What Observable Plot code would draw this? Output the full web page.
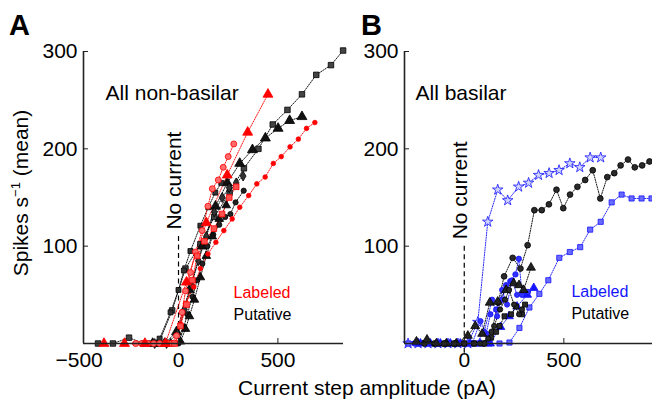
<!DOCTYPE html>
<html><head><meta charset="utf-8">
<script src="https://cdn.jsdelivr.net/npm/d3@7"></script>
<script src="https://cdn.jsdelivr.net/npm/@observablehq/plot@0.6"></script>
<style>
body{margin:0;background:#fff;}
#wrap{position:relative;width:652px;height:403px;font-family:"Liberation Sans",Arial,sans-serif;overflow:hidden;background:#fff}
#wrap svg{position:absolute;top:0;overflow:visible}
.lbl{position:absolute;white-space:nowrap;color:#000;line-height:1}
</style></head><body>
<div id="wrap"></div>
<script>
// ---------- Panel A: all non-basilar (current step pA, spikes/s) ----------
// labeled (red)
const aLabTri = [[-375,0],[-272,0],[-169,0],[-66,0],[40,63],[140,124],[245,173],[348,217],[450,256]];
const aLabDot = [[-220,0],[-180,0],[-140,0],[-100,0],[-58,0],[-15,0],[10,20],[35,41],[77,58],[110,77],[148,92],[188,104],[228,116],[270,128],[308,140],[353,152],[394,164],[436,171],[477,185],[517,192],[561,202],[603,210],[644,221],[686,227]];
const aLabCirc = [[-215,0],[-185,0],[-155,0],[-125,0],[-95,0],[-65,0],[-35,0],[-10,8],[18,32],[35,54],[60,73],[85,94],[119,116],[148,141],[170,159],[200,168],[225,181],[250,192],[278,205]];
const aLabSq = [[-60,0],[-20,0],[10,18],[40,40],[70,65],[94,90],[130,105],[178,118],[219,133],[255,150],[290,161]];
// putative (black)
const aPutSq = [[-405,0],[-330,0],[-249,6],[-175,0],[-100,0],[-32,34],[35,77],[110,102],[180,130],[257,155],[329,180],[402,200],[474,225],[548,240],[621,256],[693,276],[767,286],[828,301]];
const aPutTri = [[-130,0],[-70,0],[-10,12],[55,55],[120,100],[186,141],[245,165],[308,185],[372,199],[437,211],[501,221],[559,229],[621,233]];
const aPutCirc = [[-150,0],[-100,0],[-50,0],[0,0],[27,17],[44,30],[70,48],[94,65],[120,82],[145,100],[175,112],[205,122],[235,130],[261,133],[287,145],[328,157]];
const aPutDia = [[-120,0],[-60,0],[-5,10],[30,35],[65,60],[100,85],[140,110],[180,135],[220,150],[255,160],[290,165],[325,172]];
const aPutTri2 = [[-40,0],[10,2],[35,15],[55,28],[80,45],[110,68],[140,90],[170,110],[205,128],[240,142]];
const aPutSq2 = [[-150,0],[-95,5],[-40,32],[0,55],[27,75],[60,95],[110,121],[150,140],[185,155],[215,165]];

// ---------- Panel B: all basilar ----------
// labeled (blue)
const bLabStar = [[-282,0],[-232,0],[-182,0],[-132,0],[-82,0],[-32,0],[18,0],[68,22],[118,125],[168,158],[218,147],[273,161],[323,165],[373,173],[426,175],[476,178],[530,185],[580,181],[632,191],[685,191]];
const bLabSq = [[-280,0],[-230,0],[-180,0],[-130,0],[-80,0],[-30,0],[20,0],[77,0],[127,0],[177,0],[227,1],[277,16],[327,37],[377,51],[422,65],[477,88],[530,94],[582,99],[632,117],[685,125],[740,145],[790,153],[840,149],[890,149],[940,149]];
const bLabTri = [[-220,0],[-170,0],[-120,0],[-70,0],[-20,0],[30,0],[80,0],[130,0],[182,17],[225,28],[265,38],[316,50],[349,57]];
const bLabCirc = [[-250,0],[-190,0],[-130,0],[-70,0],[-10,0],[40,0],[81,23],[110,10],[131,30],[160,35],[190,45],[210,60],[231,64],[257,71],[274,87],[290,50],[320,53]];
const bLabCirc2 = [[60,0],[100,12],[140,45],[165,28],[190,55],[215,40],[240,65],[265,50]];
// putative (black)
const bPutCirc = [[-200,0],[-150,0],[-100,0],[-50,0],[0,0],[50,0],[100,0],[138,12],[170,42],[200,69],[243,88],[282,77],[318,101],[352,137],[389,137],[425,143],[463,158],[497,139],[531,153],[568,161],[607,168],[645,178],[683,149],[718,171],[753,175],[785,183],[822,189],[856,181],[893,183],[930,187]];
const bPutTri = [[-240,2],[-187,4],[-140,0],[-90,0],[-40,0],[18,8],[55,18],[90,10],[128,42],[168,43],[210,55],[248,62],[275,60],[298,55],[335,78]];
const bPutSq = [[-100,0],[-50,0],[0,0],[50,0],[100,0],[135,6],[160,12],[177,18],[202,28],[235,30],[260,38],[290,30],[305,40]];
const bPutCirc2 = [[80,0],[120,5],[150,18],[180,35],[205,45],[225,55],[250,40],[275,30],[290,35]];

// ---------- axes / annotations ----------
const aXTicks = [-500, 0, 500];
const bXTicks = [0, 500];
const yTicks = [100, 200, 300];
const aXDomain = [-478, 830];
const bXDomain = [-300, 945];
const yDomain = [0, 300];
const aTitle = "All non-basilar", bTitle = "All basilar";
const aTitlePos = [-367, 257], bTitlePos = [-245, 257];
const aNoCur = [0, 113], bNoCur = [-10, 103];   // dashed line extent (spikes/s)
const aLegendPos = [277, 51.5, 29], bLegendPos = [538, 52.6, 30.4];
const xLabel = "Current step amplitude (pA)";

const RED = "#ff0000", BLUE = "#1414ff", BLK = "#000000";
const FONT = "'Liberation Sans', Arial, Helvetica, sans-serif";

const aSeries = [
  {data: aPutSq,   c: BLK, symbol: "square",   r: 3.1, fill: "#444"},
  {data: aPutTri,  c: BLK, symbol: "triangle", r: 3.7, fill: "#111"},
  {data: aPutCirc, c: BLK, symbol: "circle",   r: 2.6, fill: "#222"},
  {data: aPutDia,  c: BLK, symbol: "diamond",  r: 3.0, fill: "#333"},
  {data: aPutTri2, c: BLK, symbol: "triangle", r: 3.2, fill: "#111"},
  {data: aPutSq2,  c: BLK, symbol: "square",   r: 2.8, fill: "#333"},
  {data: aLabDot,  c: RED, symbol: "circle",   r: 2.3, fill: RED},
  {data: aLabCirc, c: RED, symbol: "circle",   r: 3.0, fill: "#ff6a6a"},
  {data: aLabSq,   c: RED, symbol: "square",   r: 3.2, fill: "#ff5050"},
  {data: aLabTri,  c: RED, symbol: "triangle", r: 3.7, fill: RED}
];
const bSeries = [
  {data: bLabStar,  c: BLUE, symbol: "star",     r: 3.3, fill: "#d0d4ff"},
  {data: bLabSq,    c: BLUE, symbol: "square",   r: 2.9, fill: "#6a6aff"},
  {data: bLabTri,   c: BLUE, symbol: "triangle", r: 3.2, fill: BLUE},
  {data: bLabCirc,  c: BLUE, symbol: "circle",   r: 2.7, fill: "#3030ff"},
  {data: bLabCirc2, c: BLUE, symbol: "circle",   r: 2.6, fill: "#3030ff"},
  {data: bPutCirc,  c: BLK,  symbol: "circle",   r: 2.9, fill: "#2a2a2a"},
  {data: bPutTri,   c: BLK,  symbol: "triangle", r: 3.3, fill: "#222"},
  {data: bPutSq,    c: BLK,  symbol: "square",   r: 2.8, fill: "#2a2a2a"},
  {data: bPutCirc2, c: BLK,  symbol: "circle",   r: 2.6, fill: "#2a2a2a"}
];

function seriesMarks(list) {
  const m = [];
  for (const s of list) {
    m.push(Plot.line(s.data, {x: d => d[0], y: d => d[1], stroke: s.c, strokeWidth: 1, strokeDasharray: "1.2,1.3", strokeOpacity: 0.9}));
  }
  for (const s of list) {
    m.push(Plot.dot(s.data, {x: d => d[0], y: d => d[1], symbol: s.symbol, r: s.r, fill: s.fill, stroke: s.c, strokeWidth: 0.8}));
  }
  return m;
}

function panel({series, xDomain, xTicks, width, marginLeft, marginRight, title, titlePos, noCur, legendPos, legendColor}) {
  return Plot.plot({
    width, height: 403, marginLeft, marginRight, marginTop: 51, marginBottom: 403 - 51 - 292,
    style: {background: "none", fontFamily: FONT, fontSize: "21px", overflow: "visible"},
    x: {domain: xDomain}, y: {domain: yDomain},
    marks: [
      Plot.ruleX([0], {y1: noCur[0], y2: noCur[1], stroke: "#000", strokeWidth: 1.2, strokeDasharray: "5,3.5"}),
      Plot.text(["No current"], {x: 0, y: noCur[1] + 4, rotate: -90, textAnchor: "start", lineAnchor: "middle", dx: -4, fontSize: 21, fill: "#000"}),
      Plot.text([title], {x: titlePos[0], y: titlePos[1], textAnchor: "start", lineAnchor: "middle", fontSize: 21, fill: "#000"}),
      Plot.text(["Labeled"], {x: legendPos[0], y: legendPos[1], textAnchor: "start", lineAnchor: "middle", fontSize: 16, fill: legendColor}),
      Plot.text(["Putative"], {x: legendPos[0], y: legendPos[2], textAnchor: "start", lineAnchor: "middle", fontSize: 16, fill: "#000"}),
      ...seriesMarks(series),
      Plot.ruleY([0], {stroke: "#222", strokeWidth: 1.6}),
      Plot.ruleX([xDomain[0]], {stroke: "#222", strokeWidth: 1.6}),
      Plot.axisY(yTicks, {tickSize: 0, tickPadding: 6, fontSize: 21, label: null}),
      Plot.axisY(yTicks, {tickSize: -5, tickFormat: () => "", label: null, stroke: "#222"}),
      Plot.axisX(xTicks, {tickSize: 0, tickPadding: 9, fontSize: 21, label: null}),
      Plot.axisX(xTicks.filter(t => t >= xDomain[0]), {tickSize: -5, tickFormat: () => "", label: null, stroke: "#222"})
    ]
  });
}

const wrap = document.getElementById("wrap");
const svgA = panel({series: aSeries, xDomain: aXDomain, xTicks: aXTicks, width: 345, marginLeft: 83, marginRight: 2,
  title: aTitle, titlePos: aTitlePos, noCur: aNoCur, legendPos: aLegendPos, legendColor: RED});
svgA.style.left = "0px";
wrap.appendChild(svgA);
const svgB = panel({series: bSeries, xDomain: bXDomain, xTicks: bXTicks, width: 322, marginLeft: 74, marginRight: 0,
  title: bTitle, titlePos: bTitlePos, noCur: bNoCur, legendPos: bLegendPos, legendColor: BLUE});
svgB.style.left = "330px";
wrap.appendChild(svgB);

function addLabel(html, css) {
  const d = document.createElement("div");
  d.className = "lbl";
  d.innerHTML = html;
  Object.assign(d.style, css);
  wrap.appendChild(d);
}
addLabel("A", {left: "9px", top: "11px", fontSize: "29px", fontWeight: "bold"});
addLabel("B", {left: "361px", top: "11px", fontSize: "29px", fontWeight: "bold"});
addLabel(xLabel, {left: "367px", top: "377px", fontSize: "21px", transform: "translateX(-50%)"});
addLabel('Spikes s<span style="font-size:13px;position:relative;top:-8px">−1</span> (mean)',
  {left: "20px", top: "193px", fontSize: "21px", transform: "translate(-50%,-50%) rotate(-90deg)"});
</script>
</body></html>
